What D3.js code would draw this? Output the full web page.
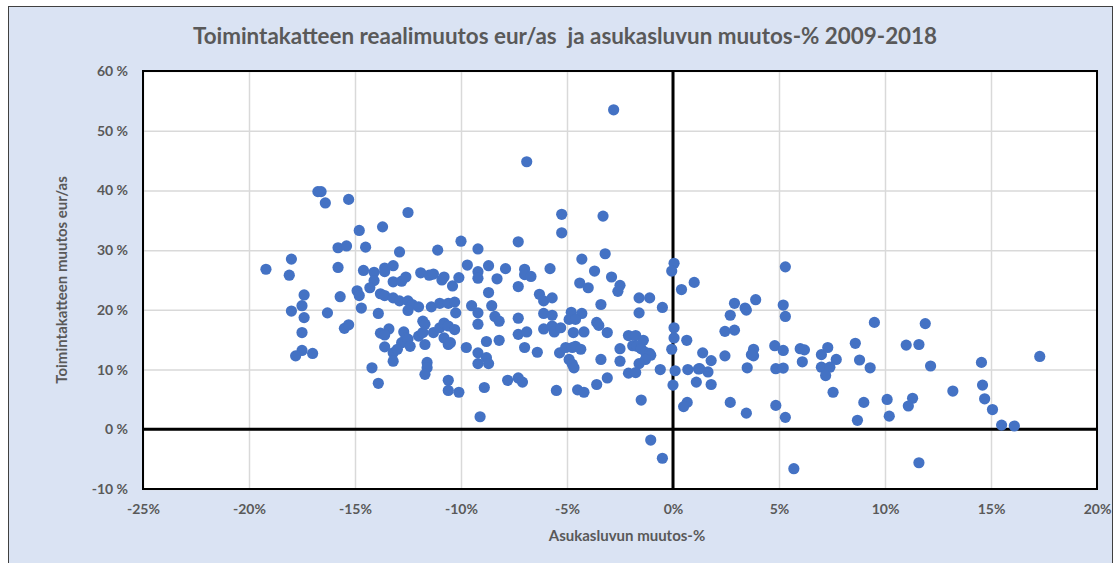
<!DOCTYPE html>
<html>
<head>
<meta charset="utf-8">
<script src="https://cdn.jsdelivr.net/npm/d3@7"></script>
<style>
  body { margin: 0; background: #fff; }
  svg text { font-family: Lato, "Open Sans", sans-serif; font-weight: 700; fill: #595959; }
</style>
</head>
<body>
<svg id="chart" width="1120" height="563"></svg>
<script>
// asukasluvun muutos-% (x) ja toimintakatteen muutos eur/as % (y)
const asukasMuutos = [
  -16.75, -16.6, -16.4, -15.3, -14.8, -13.7, -15.8, -15.4, -14.5, -12.9,
  -18.0, -19.2, -18.1, -15.8, -14.6, -14.1, -13.6, -13.6, -13.2, -13.2,
  -14.1, -14.3, -14.9, -14.8, -17.4, -15.7, -13.8, -13.6, -13.2, -18.0,
  -17.5, -17.4, -16.3, -14.7, -13.9, -17.5, -15.5, -15.3, -13.8, -13.4,
  -13.6, -17.5, -17.8, -17.0, -13.6, -13.2, -13.2, -14.2, -13.9, -12.8,
  -12.5, -11.1, -10.0, -9.2, -7.3, -12.6, -11.9, -11.5, -11.3, -10.9,
  -10.8, -10.4, -10.1, -9.7, -9.2, -9.2, -8.7, -8.7, -8.3, -7.9,
  -7.3, -7.0, -7.0, -6.7, -6.3, -5.8, -12.9, -12.5, -12.3, -12.5,
  -12.0, -11.4, -11.0, -10.6, -10.3, -10.25, -9.5, -8.55, -8.4, -8.2,
  -9.2, -9.2, -6.1, -7.3, -6.1, -6.1, -7.3, -6.9, -12.7, -12.6,
  -12.8, -12.5, -12.4, -12.0, -11.8, -11.7, -11.8, -11.7, -11.3, -11.0,
  -10.8, -10.6, -10.8, -10.6, -10.5, -10.3, -13.0, -11.6, -11.6, -11.7,
  -10.6, -10.6, -10.1, -9.75, -9.2, -9.2, -8.8, -8.7, -8.8, -8.2,
  -8.9, -9.1, -7.8, -7.3, -7.1, -7.0, -6.4,
  -2.8, -6.9, -5.25, -5.25, -3.3, -3.2, -4.3, -3.7, -2.9, -4.4,
  -4.0, -2.5, -2.6, 0.05, -0.06, 1.0, 0.4, -1.6, -1.1, -5.7,
  -3.4, -0.5, -1.6, -4.8, -4.3, -4.9, -4.6, -3.6, -3.5, -5.7,
  -5.6, -5.3, -4.7, -4.2, -3.1, -2.1, -1.76, -1.4, -1.9, -1.7,
  -1.5, -1.3, -1.1, -1.05, -1.3, -1.6, 0.05, 0.05, -0.06, 0.65,
  -5.35, -5.06, -4.75, -4.6, -4.35, -4.9, -4.75, -4.67, -3.4, -2.5,
  -2.5, -2.1, -1.76, -0.6, 0.1, 0.7, 1.2, -3.1, -3.6, -5.5,
  -4.5, -4.2, 0.0, -1.5, 1.1, 0.67, 0.5, -1.05, -0.5, -5.7,
  5.3, 2.9, 3.9, 3.4, 3.46, 2.7, 5.2, 5.3, 2.45, 2.9,
  1.4, 1.8, 1.26, 1.65, 1.8, 2.45, 3.8, 3.8, 3.7, 3.5,
  4.8, 5.2, 4.85, 5.2, 6.0, 6.2, 6.1, 7.0, 7.3, 7.7,
  7.0, 7.4, 7.2, 7.55, 8.6, 8.8, 9.3, 9.5, 2.7, 3.46,
  4.85, 5.3, 8.7, 9.0, 10.1, 10.2, 5.7, 11.9, 11.0, 11.6,
  12.15, 11.3, 11.1, 13.2, 11.6, 14.55, 14.6, 14.7, 15.07, 15.5,
  16.1, 17.3
];
const katteenMuutos = [
  39.8, 39.8, 37.9, 38.5, 33.3, 33.9, 30.4, 30.7, 30.5, 29.7,
  28.5, 26.8, 25.8, 27.1, 26.6, 26.3, 27.0, 26.4, 27.4, 24.7,
  24.9, 23.7, 23.2, 22.4, 22.5, 22.2, 22.7, 22.4, 22.0, 19.8,
  20.7, 18.7, 19.5, 20.3, 19.4, 16.2, 16.9, 17.5, 16.1, 16.8,
  15.8, 13.2, 12.3, 12.7, 13.8, 12.8, 11.4, 10.3, 7.7, 24.8,
  36.3, 30.0, 31.5, 30.2, 31.4, 25.5, 26.2, 25.8, 26.0, 25.0,
  25.5, 24.0, 25.4, 27.5, 26.4, 25.3, 27.4, 22.9, 25.2, 26.9,
  23.9, 26.8, 25.9, 25.6, 22.6, 26.9, 21.5, 21.5, 20.9, 19.9,
  20.5, 20.5, 21.1, 21.1, 21.3, 19.5, 20.7, 20.7, 18.9, 18.1,
  19.5, 17.6, 21.5, 18.6, 19.4, 16.8, 15.9, 16.3, 16.3, 15.3,
  14.5, 15.1, 13.9, 15.6, 16.2, 14.2, 18.1, 17.6, 16.2, 17.0,
  17.8, 17.3, 15.3, 14.2, 14.5, 16.7, 13.4, 11.2, 10.3, 9.2,
  8.2, 6.5, 6.2, 13.7, 12.8, 11.0, 12.0, 11.0, 14.7, 14.9,
  7.0, 2.1, 8.2, 8.6, 7.9, 13.7, 12.9,
  53.5, 44.8, 36.0, 32.9, 35.7, 29.4, 28.5, 26.5, 25.5, 24.5,
  23.7, 24.1, 23.1, 27.8, 26.5, 24.6, 23.4, 22.0, 22.0, 22.0,
  20.9, 20.4, 19.5, 19.6, 19.4, 18.4, 18.4, 17.9, 17.4, 17.3,
  16.3, 17.0, 16.2, 16.3, 16.2, 15.7, 15.7, 14.9, 14.0, 13.9,
  13.5, 12.9, 12.7, 12.4, 11.7, 11.0, 17.0, 15.3, 13.4, 14.9,
  12.8, 13.7, 13.7, 13.9, 13.4, 11.7, 10.9, 10.3, 11.7, 13.5,
  11.4, 9.4, 9.5, 10.0, 9.8, 10.0, 10.1, 8.6, 7.5, 6.5,
  6.6, 6.2, 7.4, 4.9, 7.9, 4.5, 3.8, -1.8, -4.85, 19.1,
  27.2, 21.1, 21.7, 20.3, 19.95, 19.1, 20.8, 18.9, 16.4, 16.6,
  12.8, 11.5, 10.15, 9.6, 7.5, 12.3, 13.4, 12.3, 12.5, 10.3,
  14.0, 13.2, 10.15, 10.25, 13.5, 13.3, 11.3, 12.5, 13.7, 11.7,
  10.4, 10.4, 9.0, 6.2, 14.4, 11.6, 10.3, 17.9, 4.5, 2.7,
  4.0, 2.0, 1.5, 4.5, 5.0, 2.2, -6.6, 17.7, 14.1, 14.2,
  10.6, 5.2, 3.9, 6.4, -5.6, 11.2, 7.4, 5.1, 3.3, 0.7,
  0.55, 12.2
];
const xTicks = [-25, -20, -15, -10, -5, 0, 5, 10, 15, 20];
const yTicks = [-10, 0, 10, 20, 30, 40, 50, 60];

const points = asukasMuutos.map((v, i) => ({ x: v, y: katteenMuutos[i] }));

const svg = d3.select('#chart');

const plotLeft = 143, plotRight = 1097, plotTop = 71, plotBottom = 489;

const x = d3.scaleLinear().domain([-25, 20]).range([plotLeft, plotRight]),
      y = d3.scaleLinear().domain([-10, 60]).range([plotBottom, plotTop]);

// outer chart area
svg.append('rect')
  .attr('x', 8.5).attr('y', 6.5)
  .attr('width', 1104).attr('height', 600)
  .attr('fill', '#dae3f3')
  .attr('stroke', '#404040')
  .attr('stroke-width', 1);

// plot area
svg.append('rect')
  .attr('x', plotLeft).attr('y', plotTop)
  .attr('width', plotRight - plotLeft).attr('height', plotBottom - plotTop)
  .attr('fill', '#fff');

// grid
svg.append('g')
  .attr('transform', `translate(0,${plotBottom})`)
  .call(d3.axisBottom(x).tickValues(xTicks).tickSize(-(plotBottom - plotTop)).tickFormat(''))
  .call(g => g.select('.domain').remove())
  .call(g => g.selectAll('line').attr('stroke', '#d9d9d9').attr('stroke-width', 1.5));

svg.append('g')
  .attr('transform', `translate(${plotLeft},0)`)
  .call(d3.axisLeft(y).tickValues(yTicks).tickSize(-(plotRight - plotLeft)).tickFormat(''))
  .call(g => g.select('.domain').remove())
  .call(g => g.selectAll('line').attr('stroke', '#d9d9d9').attr('stroke-width', 1.5));

// zero lines
svg.append('line')
  .attr('x1', plotLeft).attr('x2', plotRight)
  .attr('y1', y(0)).attr('y2', y(0))
  .attr('stroke', '#000').attr('stroke-width', 3);

svg.append('line')
  .attr('x1', x(0)).attr('x2', x(0))
  .attr('y1', plotTop).attr('y2', plotBottom)
  .attr('stroke', '#000').attr('stroke-width', 3);

// border of plot area
svg.append('rect')
  .attr('x', plotLeft).attr('y', plotTop)
  .attr('width', plotRight - plotLeft).attr('height', plotBottom - plotTop)
  .attr('fill', 'none')
  .attr('stroke', '#000')
  .attr('stroke-width', 2);

// points
svg.append('g')
  .selectAll('circle')
  .data(points)
  .join('circle')
  .attr('cx', d => x(d.x))
  .attr('cy', d => y(d.y))
  .attr('r', 5.6)
  .attr('fill', '#4472c4');

// tick labels
svg.append('g')
  .attr('transform', `translate(0,${plotBottom})`)
  .call(d3.axisBottom(x).tickValues(xTicks).tickSize(0).tickPadding(15).tickFormat(d => d + '%'))
  .call(g => g.select('.domain').remove())
  .call(g => g.selectAll('text').attr('font-size', 14).style('font-family', 'Lato, sans-serif'));

svg.append('g')
  .attr('transform', `translate(${plotLeft},0)`)
  .call(d3.axisLeft(y).tickValues(yTicks).tickSize(0).tickPadding(15).tickFormat(d => d + ' %'))
  .call(g => g.select('.domain').remove())
  .call(g => g.selectAll('text').attr('font-size', 14).style('font-family', 'Lato, sans-serif'));

// titles
svg.append('text')
  .attr('x', 565).attr('y', 44)
  .attr('text-anchor', 'middle')
  .attr('font-size', 22.4)
  .style('white-space', 'pre')
  .text('Toimintakatteen reaalimuutos eur/as  ja asukasluvun muutos-% 2009-2018');

svg.append('text')
  .attr('x', 627).attr('y', 541)
  .attr('text-anchor', 'middle')
  .attr('font-size', 15)
  .text('Asukasluvun muutos-%');

svg.append('text')
  .attr('transform', 'translate(67,280) rotate(-90)')
  .attr('text-anchor', 'middle')
  .attr('font-size', 15)
  .text('Toimintakatteen muutos eur/as');
</script>
</body>
</html>
